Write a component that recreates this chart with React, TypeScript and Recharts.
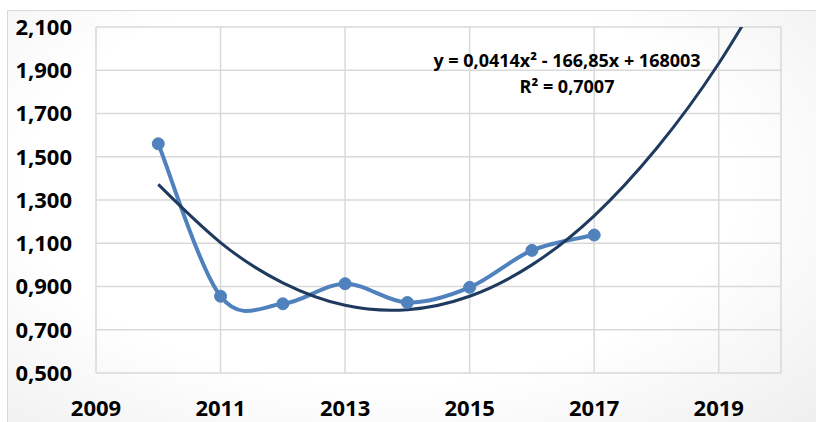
import { LineChart, Line, XAxis, YAxis, CartesianGrid } from 'recharts';

const years = [2010, 2011, 2012, 2013, 2014, 2015, 2016, 2017];
const values = [1.56, 0.855, 0.82, 0.913, 0.826, 0.896, 1.067, 1.138];

const trendYears = [2010, 2011, 2012, 2013, 2014, 2015, 2016, 2017, 2018, 2019, 2020];
const trendValues = [1.372, 1.103, 0.917, 0.813, 0.793, 0.855, 1.0, 1.227, 1.538, 1.931, 2.41];

const xTicks = [2009, 2011, 2013, 2015, 2017, 2019];
const yTicks = [0.5, 0.7, 0.9, 1.1, 1.3, 1.5, 1.7, 1.9, 2.1];

const equation = 'y = 0,0414x² - 166,85x + 168003';
const rSquared = 'R² = 0,7007';

const data = years.map((year, i) => ({ year, value: values[i] }));
const trend = trendYears.map((year, i) => ({ year, trend: trendValues[i] }));

const font = '"Open Sans", sans-serif';
const tickStyle = { fontFamily: font, fontWeight: 700, fontSize: 22, fill: '#000' };

// Excel-like smoothed line (Catmull-Rom through the points)
function smoothCurve(context: any) {
  let pts: [number, number][] = [];
  return {
    areaStart() {},
    areaEnd() {},
    lineStart() {
      pts = [];
    },
    point(x: number, y: number) {
      pts.push([+x, +y]);
    },
    lineEnd() {
      if (!pts.length) return;
      context.moveTo(pts[0][0], pts[0][1]);
      for (let i = 0; i < pts.length - 1; i++) {
        const p0 = pts[i - 1] || pts[i];
        const p1 = pts[i];
        const p2 = pts[i + 1];
        const p3 = pts[i + 2] || p2;
        context.bezierCurveTo(
          p1[0] + (p2[0] - p0[0]) / 6,
          p1[1] + (p2[1] - p0[1]) / 6,
          p2[0] - (p3[0] - p1[0]) / 6,
          p2[1] - (p3[1] - p1[1]) / 6,
          p2[0],
          p2[1],
        );
      }
    },
  };
}

export default function App() {
  return (
    <div style={{ position: 'fixed', left: 0, top: 0, width: 816, height: 422, overflow: 'hidden', background: '#fff' }}>
      <div
        style={{
          position: 'absolute',
          left: 7,
          top: 10,
          width: 830,
          height: 430,
          border: '1.5px solid #d9d9d9',
          background: 'radial-gradient(ellipse at 45% 40%, #ffffff 55%, #ececec 100%)',
        }}
      />
      <div style={{ position: 'absolute', left: 0, top: 0 }}>
        <LineChart width={816} height={422} margin={{ top: 27, right: 35, left: 0, bottom: 0 }}>
          <CartesianGrid stroke="#d9d9d9" strokeWidth={1.5} />
          <XAxis
            type="number"
            dataKey="year"
            domain={[2009, 2020]}
            ticks={xTicks}
            allowDataOverflow
            axisLine={false}
            tickLine={false}
            tickSize={0}
            tickMargin={27}
            height={49}
            tick={tickStyle}
          />
          <YAxis
            type="number"
            domain={[0.5, 2.1]}
            ticks={yTicks}
            allowDataOverflow
            axisLine={false}
            tickLine={false}
            tickSize={0}
            tickMargin={24}
            width={96}
            tick={tickStyle}
            tickFormatter={(v: number) => v.toFixed(3).replace('.', ',')}
          />
          <Line
            data={data}
            dataKey="value"
            type={smoothCurve as any}
            stroke="#4f81bd"
            strokeWidth={4}
            dot={{ r: 6, fill: '#4f81bd', stroke: '#4f81bd', strokeWidth: 1 }}
            activeDot={false}
            isAnimationActive={false}
          />
          <Line
            data={trend}
            dataKey="trend"
            type="natural"
            stroke="#1f3a5f"
            strokeWidth={3}
            dot={false}
            activeDot={false}
            isAnimationActive={false}
          />
        </LineChart>
      </div>
      <div
        style={{
          position: 'absolute',
          left: 567,
          top: 47,
          transform: 'translateX(-50%)',
          fontFamily: font,
          fontWeight: 700,
          fontSize: 18,
          lineHeight: '26px',
          textAlign: 'center',
          whiteSpace: 'nowrap',
          color: '#000',
        }}
      >
        <div>{equation}</div>
        <div>{rSquared}</div>
      </div>
    </div>
  );
}
